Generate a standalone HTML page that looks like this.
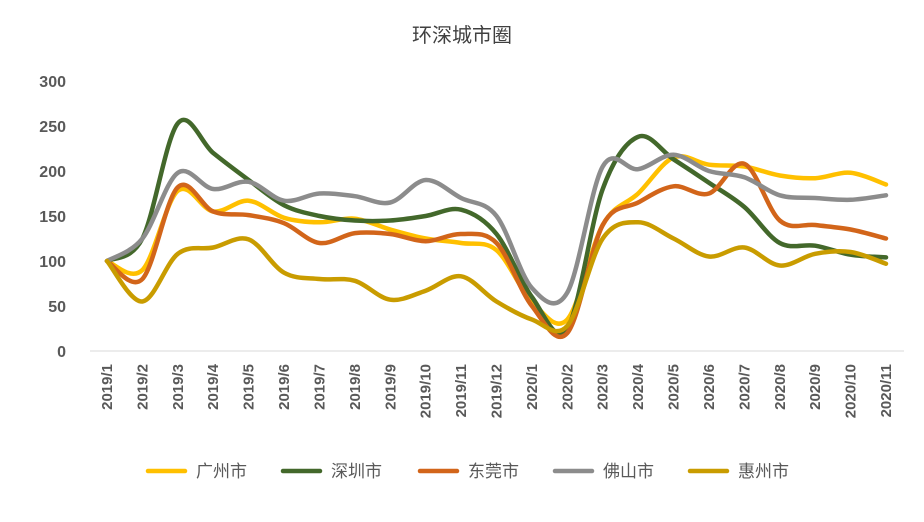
<!DOCTYPE html>
<html><head><meta charset="utf-8"><style>
body{margin:0;background:#fff;font-family:"Liberation Sans","Noto Sans CJK SC",sans-serif;}
svg text{font-family:"Liberation Sans","Noto Sans CJK SC",sans-serif;}
</style></head><body>
<svg id="chart" width="924" height="517">
<text x="462" y="42" text-anchor="middle" font-size="20" fill="#404040">环深城市圈</text>
<g id="yaxis"></g><g id="xaxis"></g><g id="series"></g><g id="legend"></g>
</svg>
<script>
const categories=["2019/1","2019/2","2019/3","2019/4","2019/5","2019/6","2019/7","2019/8","2019/9","2019/10","2019/11","2019/12","2020/1","2020/2","2020/3","2020/4","2020/5","2020/6","2020/7","2020/8","2020/9","2020/10","2020/11"];
const yTicks=[0,50,100,150,200,250,300];
const seriesNames=["广州市","深圳市","东莞市","佛山市","惠州市"];
const guangzhou=[100,90,178,155,167,148,143,147,135,125,120,112,55,35,140,175,215,207,205,195,192,198,185];
const shenzhen=[100,125,253,220,190,162,150,145,145,150,157,130,60,25,180,238,213,187,160,120,117,107,104];
const dongguan=[100,80,182,155,151,142,120,131,130,122,130,120,50,20,140,165,183,175,208,145,140,135,125];
const foshan=[100,125,198,180,188,167,175,172,165,190,170,150,70,65,205,202,218,200,193,173,170,168,173];
const huizhou=[100,55,108,115,124,87,80,78,57,67,83,55,35,28,125,143,125,105,115,95,108,110,97];
const colors=["#FFC000","#43682B","#D2651A","#8C8C8C","#C99C00"];
const allSeries=[guangzhou,shenzhen,dongguan,foshan,huizhou];
const NS="http://www.w3.org/2000/svg";
const y0=351,yScale=0.9,x0=107,xStep=(886-107)/22;
function yPos(v){return y0-v*yScale;}
function xPos(i){return x0+i*xStep;}
function mk(tag,attrs,parent){const e=document.createElementNS(NS,tag);for(const k in attrs)e.setAttribute(k,attrs[k]);parent.appendChild(e);return e;}
const ya=document.getElementById('yaxis');
yTicks.forEach(t=>{const e=mk('text',{x:66,y:yPos(t)+6,'text-anchor':'end','font-size':'16','font-weight':'bold',fill:'#595959'},ya);e.textContent=t;

});
const base=mk('line',{x1:90,x2:904,y1:y0,y2:y0,stroke:'#D9D9D9','stroke-width':1},ya);


const xa=document.getElementById('xaxis');
categories.forEach((c,i)=>{const x=xPos(i);const e=mk('text',{x:0,y:0,'text-anchor':'end','font-size':'15','font-weight':'bold',fill:'#595959',transform:`translate(${x+5},364) rotate(-90)`},xa);e.textContent=c;

});
const sg=document.getElementById('series');
allSeries.forEach((s,si)=>{const p=s.map((v,i)=>[xPos(i),yPos(v)]);let d=`M${p[0][0]},${p[0][1]}`;
for(let i=0;i<p.length-1;i++){const a=p[Math.max(0,i-1)],b=p[i],c=p[i+1],e=p[Math.min(p.length-1,i+2)];const t=6;
d+=` C${b[0]+(c[0]-a[0])/t},${b[1]+(c[1]-a[1])/t} ${c[0]-(e[0]-b[0])/t},${c[1]-(e[1]-b[1])/t} ${c[0]},${c[1]}`;}
const path=mk('path',{d:d,fill:'none',stroke:colors[si],'stroke-width':4.5,'stroke-linecap':'round','stroke-linejoin':'round'},sg);

});
const lg=document.getElementById('legend');
const lx=[148,283,420,555,690];
seriesNames.forEach((n,i)=>{const g=mk('g',{},lg);


mk('line',{x1:lx[i],x2:lx[i]+37,y1:471,y2:471,stroke:colors[i],'stroke-width':4.5,'stroke-linecap':'round'},g);
const t=mk('text',{x:lx[i]+48,y:477,'font-size':'17',fill:'#595959'},g);t.textContent=n;});
</script>
</body></html>
